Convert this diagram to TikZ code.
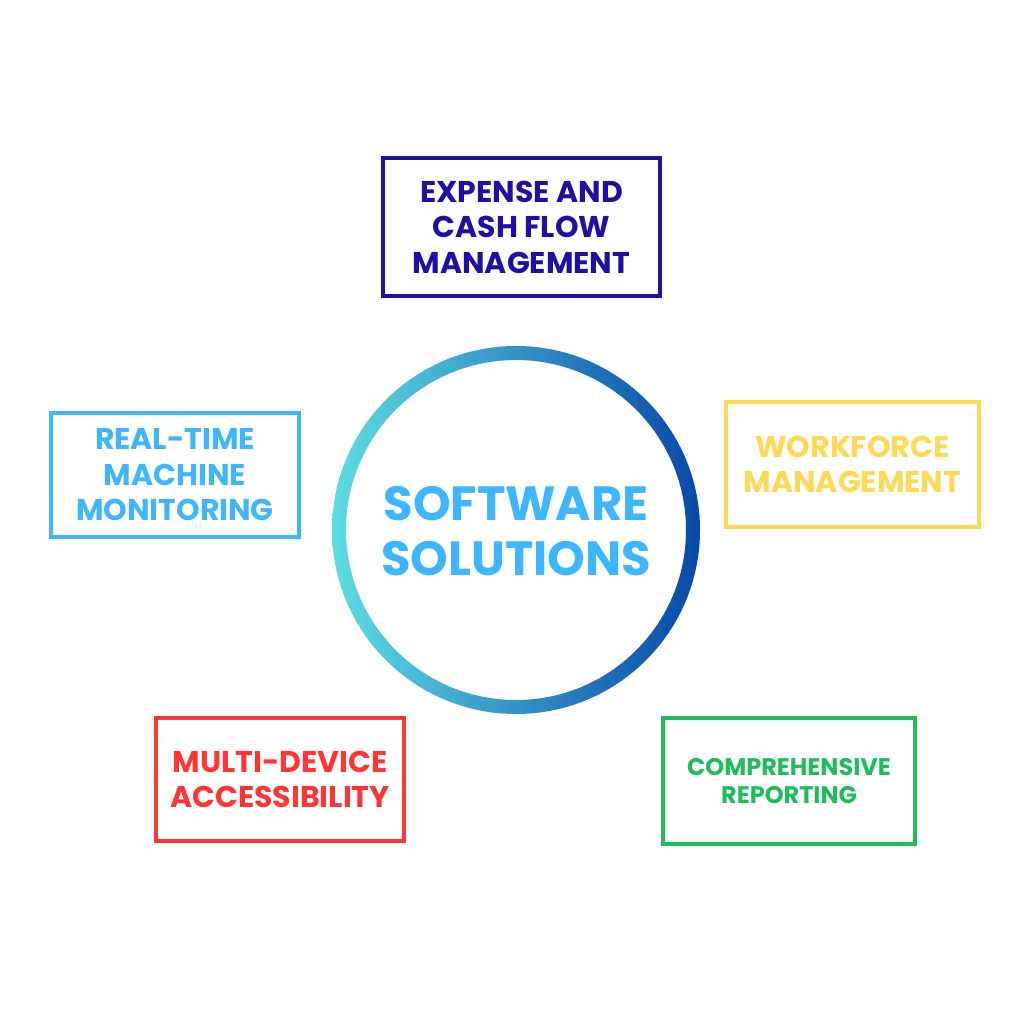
\documentclass[tikz,border=0pt]{standalone}
\usepackage{fontspec}
\setmainfont{Poppins}
\definecolor{cnavy}{HTML}{1E0FA5}
\definecolor{csky}{HTML}{3DB5FF}
\definecolor{cyellow}{HTML}{FFD955}
\definecolor{cred}{HTML}{FF3535}
\definecolor{cgreen}{HTML}{1DBE5A}
\definecolor{ringL}{HTML}{5FDCE2}
\definecolor{ringR}{HTML}{0848A8}
\tikzset{
  boxstyle/.style={draw, line width=4pt, inner sep=0pt, align=center, font=\bfseries\fontsize{30}{35.5}\selectfont},
  centertext/.style={align=center, text=csky, font=\bfseries\fontsize{48}{55}\selectfont}
}
\begin{document}
\begin{tikzpicture}[x=1pt,y=-1pt]
\path[fill=white] (0,0) rectangle (1024,1024);
\useasboundingbox (0,0) rectangle (1024,1024);
% ring
\path[even odd rule, left color=ringL, right color=ringR] (516,530) circle (184) (516,530) circle (170);
\node[centertext] (center) at (516,531) {SOFTWARE\\SOLUTIONS};
% boxes
\node[boxstyle, draw=cnavy, text=cnavy, minimum width=277pt, minimum height=138pt] (expense) at (521.5,227) {EXPENSE AND\\CASH FLOW\\MANAGEMENT};
\node[boxstyle, draw=csky, text=csky, minimum width=248pt, minimum height=124pt] (realtime) at (175,475) {REAL-TIME\\MACHINE\\MONITORING};
\node[boxstyle, draw=cyellow, text=cyellow, minimum width=253pt, minimum height=125pt] (workforce) at (852.5,464.5) {WORKFORCE\\MANAGEMENT};
\node[boxstyle, draw=cred, text=cred, minimum width=248pt, minimum height=123pt] (multi) at (280,779.5) {MULTI-DEVICE\\ACCESSIBILITY};
\node[boxstyle, draw=cgreen, text=cgreen, minimum width=252pt, minimum height=126pt, font=\bfseries\fontsize{24}{28}\selectfont] (report) at (789,781) {COMPREHENSIVE\\REPORTING};
\end{tikzpicture}
\end{document}
